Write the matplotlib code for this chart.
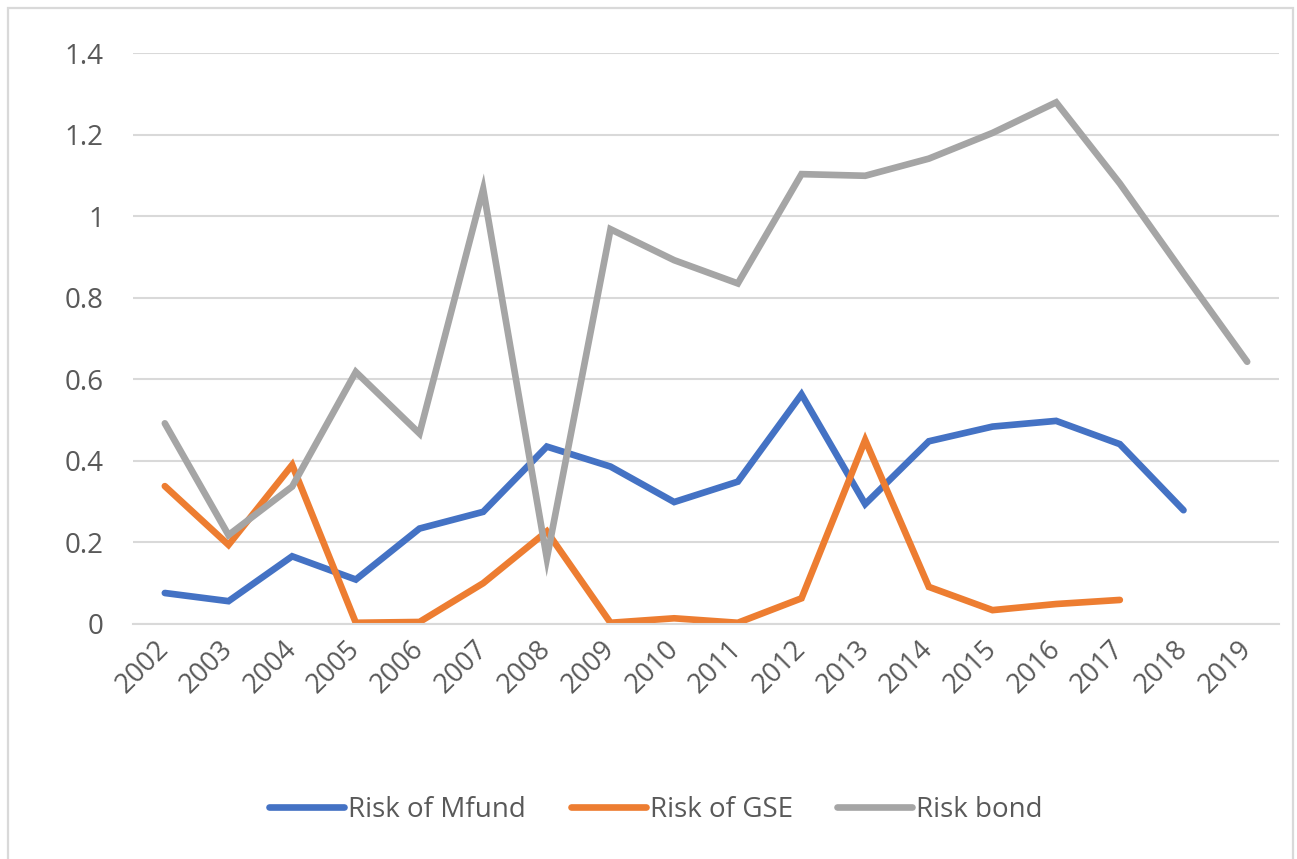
import numpy as np
import matplotlib
matplotlib.use("Agg")
import matplotlib.pyplot as plt
from matplotlib.patches import Rectangle

plt.rcParams['font.family'] = ['Open Sans', 'DejaVu Sans']

years = [str(y) for y in range(2002, 2020)]
nan = np.nan
risk_mfund = [0.076, 0.056, 0.166, 0.109, 0.234, 0.275, 0.435, 0.386, 0.299, 0.349,
              0.563, 0.294, 0.448, 0.484, 0.498, 0.441, 0.279, nan]
risk_gse = [0.338, 0.194, 0.390, 0.003, 0.005, 0.100, 0.227, 0.003, 0.014, 0.003,
            0.063, 0.451, 0.091, 0.034, 0.049, 0.059, nan, nan]
risk_bond = [0.492, 0.218, 0.337, 0.618, 0.467, 1.066, 0.161, 0.968, 0.892, 0.835,
             1.103, 1.099, 1.141, 1.204, 1.279, 1.080, 0.860, 0.643]

series = [
    ('Risk of Mfund', risk_mfund, '#4472C4'),
    ('Risk of GSE', risk_gse, '#ED7D31'),
    ('Risk bond', risk_bond, '#A5A5A5'),
]

W, H = 1297, 859
fig = plt.figure(figsize=(W / 100, H / 100), dpi=100)

# light frame around the whole chart (bottom edge runs off the figure)
fig.patches.append(Rectangle((8 / W, -0.05), (1293 - 8) / W, 1.05 - 8 / H,
                             transform=fig.transFigure, fill=False,
                             edgecolor='#D9D9D9', linewidth=1.6))

ax = fig.add_axes([133 / W, 1 - 624 / H, (1279 - 133) / W, (624 - 53) / H])

x = np.arange(len(years))
for name, vals, color in series:
    ax.plot(x, vals, color=color, linewidth=4.8, label=name,
            solid_capstyle='round', solid_joinstyle='miter')

ax.set_xlim(-0.5, len(years) - 0.5)
ax.set_ylim(0, 1.4)
yt = np.arange(0, 1.41, 0.2)
ax.set_yticks(yt)
ax.set_yticklabels(['0' if v == 0 else ('1' if abs(v - 1) < 1e-9 else f'{v:g}') for v in yt])
ax.set_xticks(x)
ax.set_xticklabels(years, rotation=45, ha='right', va='center', rotation_mode='anchor')

ax.yaxis.grid(True, color='#D9D9D9', linewidth=1.5)
ax.set_axisbelow(True)
for s in ['top', 'right', 'left']:
    ax.spines[s].set_visible(False)
ax.spines['bottom'].set_color('#D9D9D9')
ax.spines['bottom'].set_linewidth(1.5)
ax.tick_params(axis='y', length=0, pad=21, labelsize=20, labelcolor='#595959')
ax.tick_params(axis='x', length=0, pad=15, labelsize=19.5, labelcolor='#595959')

leg = fig.legend(loc='center', bbox_to_anchor=(656 / W, 1 - 810 / H), ncol=3,
                 frameon=False, fontsize=20, handlelength=2.7, handletextpad=0.15,
                 columnspacing=1.6)
for t in leg.get_texts():
    t.set_color('#595959')

fig.savefig('out.png', dpi=100)
